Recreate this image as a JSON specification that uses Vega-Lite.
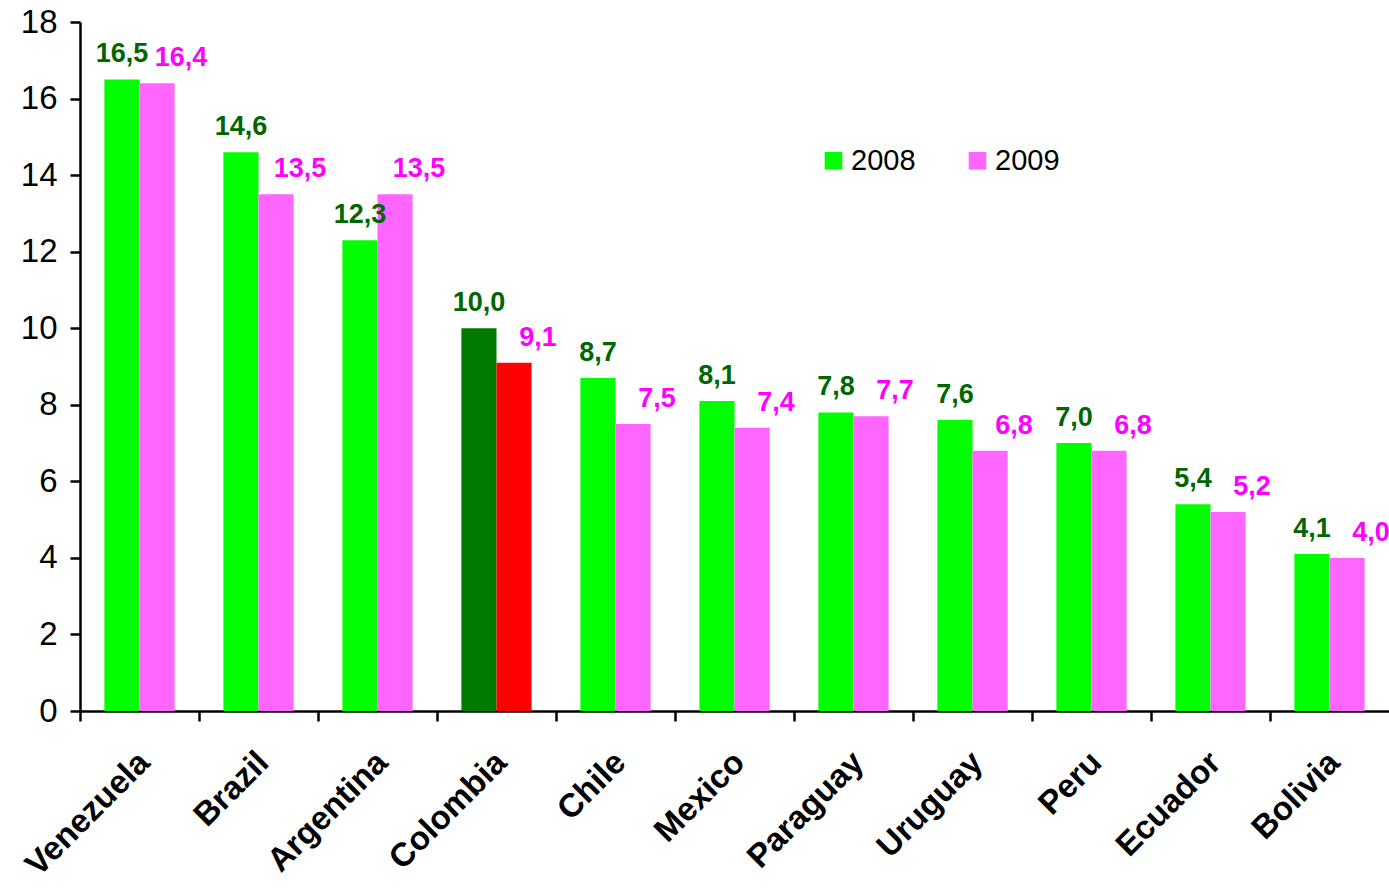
{
  "$schema": "https://vega.github.io/schema/vega-lite/v6.json",
  "width": 1309,
  "height": 689,
  "autosize": {"type": "none"},
  "padding": {"left": 80, "top": 22, "right": 0, "bottom": 177},
  "background": "white",
  "config": {
    "view": {"stroke": null},
    "font": "Liberation Sans",
    "locale": {"number": {"decimal": ",", "thousands": ".", "grouping": [3], "currency": ["", "€"]}}
  },
  "data": {
    "values": [
      {"country": "Venezuela", "year": "2008", "value": 16.5},
      {"country": "Venezuela", "year": "2009", "value": 16.4},
      {"country": "Brazil", "year": "2008", "value": 14.6},
      {"country": "Brazil", "year": "2009", "value": 13.5},
      {"country": "Argentina", "year": "2008", "value": 12.3},
      {"country": "Argentina", "year": "2009", "value": 13.5},
      {"country": "Colombia", "year": "2008", "value": 10.0},
      {"country": "Colombia", "year": "2009", "value": 9.1},
      {"country": "Chile", "year": "2008", "value": 8.7},
      {"country": "Chile", "year": "2009", "value": 7.5},
      {"country": "Mexico", "year": "2008", "value": 8.1},
      {"country": "Mexico", "year": "2009", "value": 7.4},
      {"country": "Paraguay", "year": "2008", "value": 7.8},
      {"country": "Paraguay", "year": "2009", "value": 7.7},
      {"country": "Uruguay", "year": "2008", "value": 7.6},
      {"country": "Uruguay", "year": "2009", "value": 6.8},
      {"country": "Peru", "year": "2008", "value": 7.0},
      {"country": "Peru", "year": "2009", "value": 6.8},
      {"country": "Ecuador", "year": "2008", "value": 5.4},
      {"country": "Ecuador", "year": "2009", "value": 5.2},
      {"country": "Bolivia", "year": "2008", "value": 4.1},
      {"country": "Bolivia", "year": "2009", "value": 4.0}
    ]
  },
  "encoding": {
    "x": {
      "field": "country",
      "type": "nominal",
      "sort": null,
      "scale": {"paddingInner": 0.41, "paddingOuter": 0.205},
      "axis": {
        "title": null,
        "domainColor": "black",
        "domainWidth": 2.5,
        "tickColor": "black",
        "tickWidth": 2.5,
        "tickSize": 10,
        "tickOffset": -59.5,
        "labelOffset": 64,
        "labelAngle": -45,
        "labelAlign": "right",
        "labelBaseline": "middle",
        "labelFontSize": 33,
        "labelFontWeight": "bold",
        "labelColor": "black",
        "labelPadding": 36
      }
    },
    "xOffset": {"field": "year", "type": "nominal", "scale": {"domain": ["2008", "2009"], "paddingInner": 0, "paddingOuter": 0}},
    "y": {
      "field": "value",
      "type": "quantitative",
      "scale": {"domain": [0, 18], "nice": false},
      "axis": {
        "title": null,
        "values": [0, 2, 4, 6, 8, 10, 12, 14, 16, 18],
        "grid": false,
        "domainColor": "black",
        "domainWidth": 2.5,
        "tickColor": "black",
        "tickWidth": 2.5,
        "tickSize": 10,
        "labelFontSize": 33,
        "labelColor": "black",
        "labelPadding": 13
      }
    }
  },
  "layer": [
    {
      "mark": {"type": "bar"},
      "encoding": {
        "color": {
          "condition": [
            {"test": "datum.country === 'Colombia' && datum.year === '2008'", "value": "#007a00"},
            {"test": "datum.country === 'Colombia' && datum.year === '2009'", "value": "#ff0000"}
          ],
          "field": "year",
          "type": "nominal",
          "scale": {"domain": ["2008", "2009"], "range": ["#00ff00", "#ff66ff"]},
          "legend": {
            "title": null,
            "orient": "none",
            "legendX": 739,
            "legendY": 124,
            "direction": "horizontal",
            "symbolType": "square",
            "symbolSize": 310,
            "symbolStrokeWidth": 0,
            "labelFontSize": 29,
            "labelColor": "black",
            "labelOffset": 3,
            "columnPadding": 47,
            "padding": 0
          }
        }
      }
    },
    {
      "transform": [{"filter": "datum.year === '2008'"}],
      "mark": {"type": "text", "baseline": "alphabetic", "dy": -17, "fontSize": 27, "fontWeight": "bold", "color": "#006600"},
      "encoding": {"text": {"field": "value", "type": "quantitative", "format": ".1f"}}
    },
    {
      "transform": [{"filter": "datum.year === '2009'"}],
      "mark": {"type": "text", "baseline": "alphabetic", "dy": -17, "dx": 24, "fontSize": 27, "fontWeight": "bold", "color": "#ff00ff"},
      "encoding": {"text": {"field": "value", "type": "quantitative", "format": ".1f"}}
    }
  ]
}
